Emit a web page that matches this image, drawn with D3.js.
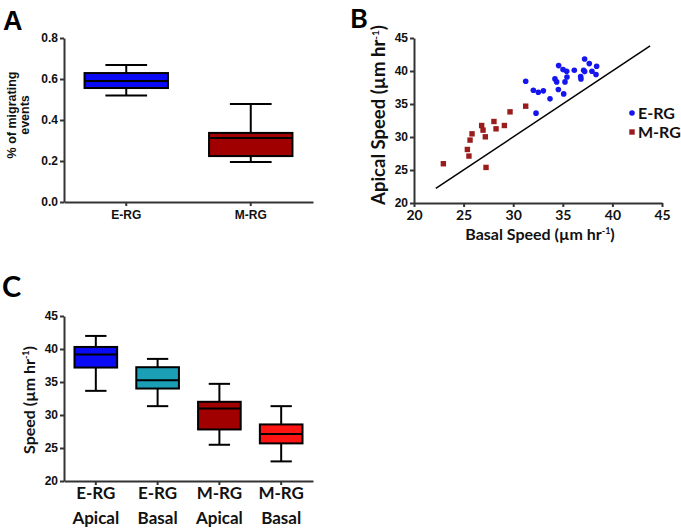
<!DOCTYPE html>
<meta charset="utf-8" />
<title>Migration and speed panels</title>
<style>
  body { margin: 0; background: #fff; }
  .axis path, .axis line { stroke: #333; stroke-width: 2px; }
  .axis text { font-family: "Liberation Sans", Arial, sans-serif; font-weight: bold; font-size: 12px; fill: #111; }
  .calib text, .calib { font-family: Lato, "Open Sans", sans-serif; font-weight: bold; fill: #111; }
  .box rect { stroke: #000; stroke-width: 2px; }
  .box line { stroke: #000; stroke-width: 2px; }
  .letter { font-family: "Liberation Sans", Arial, sans-serif; font-weight: bold; font-size: 27px; fill: #000; }
</style>
<body>
<script src="https://cdn.jsdelivr.net/npm/d3@7"></script>
<script>
  // panel A: fraction of migrating events
  var migCats = ["E-RG", "M-RG"];
  var migLow = [0.52, 0.195];
  var migQ1 = [0.556, 0.224];
  var migMed = [0.59, 0.312];
  var migQ3 = [0.629, 0.337];
  var migHigh = [0.668, 0.478];
  var migColors = ["#0a0af5", "#a00000"];
  var migTicks = [0, 0.2, 0.4, 0.6, 0.8];

  // panel B: apical vs basal speed per cell
  var eBasal = [31.26, 32.03, 32.53, 33.04, 33.71, 32.3, 34.58, 34.21, 34.38, 34.55, 35.09, 35.02, 35.39,
    35.22, 35.42, 36.16, 36.8, 36.83, 37.1, 37.2, 37.2, 37.67, 37.94, 38.41, 38.35];
  var eApical = [38.45, 37.09, 36.78, 36.99, 35.78, 33.61, 40.82, 38.8, 38.35, 37.19, 36.53, 40.21, 39.96,
    38.35, 39.1, 40.11, 39.15, 38.8, 40.11, 41.82, 39.91, 41.12, 39.96, 40.72, 39.46];
  var mBasal = [22.96, 25.38, 25.54, 25.65, 25.85, 26.82, 26.96, 27.19, 27.26, 28.06, 28.27, 29.11, 29.68, 31.26];
  var mApical = [25.95, 28.11, 27.11, 29.53, 30.48, 31.74, 31.04, 30.03, 25.39, 32.35, 31.24, 31.74, 33.81, 34.67];
  var unityLine = [22.2, 43.8];
  var speedTicks = [20, 25, 30, 35, 40, 45];

  // panel C: speed summaries
  var speedCats = [["E-RG", "Apical"], ["E-RG", "Basal"], ["M-RG", "Apical"], ["M-RG", "Basal"]];
  var speedLow = [33.66, 31.34, 25.49, 22.97];
  var speedQ1 = [37.19, 34.01, 27.81, 25.7];
  var speedMed = [39.15, 35.27, 30.99, 27.11];
  var speedQ3 = [40.31, 37.24, 32.0, 28.57];
  var speedHigh = [41.98, 38.5, 34.72, 31.34];
  var speedColors = ["#0a0af5", "#1b9fb7", "#a00000", "#ff1414"];

  var svg = d3.select("body").append("svg")
    .attr("width", 681)
    .attr("height", 529);

  function drawBoxes(g, x, y, n, low, q1, med, q3, high, colors) {
    var bw = x.bandwidth();
    var box = g.selectAll(".box").data(d3.range(n)).enter()
      .append("g").attr("class", "box");
    box.append("line")
      .attr("x1", function (i) { return x(i) + bw / 2; })
      .attr("x2", function (i) { return x(i) + bw / 2; })
      .attr("y1", function (i) { return y(low[i]); })
      .attr("y2", function (i) { return y(high[i]); });
    [low, high].forEach(function (arr) {
      box.append("line")
        .attr("x1", function (i) { return x(i) + bw / 4; })
        .attr("x2", function (i) { return x(i) + bw * 3 / 4; })
        .attr("y1", function (i) { return y(arr[i]); })
        .attr("y2", function (i) { return y(arr[i]); });
    });
    box.append("rect")
      .attr("x", function (i) { return x(i); })
      .attr("width", bw)
      .attr("y", function (i) { return y(q3[i]); })
      .attr("height", function (i) { return y(q1[i]) - y(q3[i]); })
      .style("fill", function (i) { return colors[i]; });
    box.append("line")
      .attr("x1", function (i) { return x(i); })
      .attr("x2", function (i) { return x(i) + bw; })
      .attr("y1", function (i) { return y(med[i]); })
      .attr("y2", function (i) { return y(med[i]); });
  }

  // ---- Panel A
  var gA = svg.append("g");
  var xA = d3.scaleBand().domain(d3.range(migCats.length)).range([64, 313]).paddingInner(0.33).paddingOuter(0.165);
  var yA = d3.scaleLinear().domain([0, 0.8]).range([202, 38]);

  gA.append("g").attr("class", "axis")
    .attr("transform", "translate(64,0)")
    .call(d3.axisLeft(yA).tickValues(migTicks).tickFormat(d3.format(".1f")).tickSize(4).tickSizeOuter(0).tickPadding(2));
  gA.append("g").attr("class", "axis")
    .attr("transform", "translate(0,202)")
    .call(d3.axisBottom(xA).tickFormat(function (i) { return migCats[i]; }).tickSize(4).tickSizeOuter(0).tickPadding(4));
  drawBoxes(gA, xA, yA, migCats.length, migLow, migQ1, migMed, migQ3, migHigh, migColors);

  gA.append("text")
    .attr("transform", "translate(16,115) rotate(-90)")
    .attr("text-anchor", "middle")
    .style("font-family", "'Liberation Sans', Arial, sans-serif")
    .style("font-weight", "bold")
    .style("font-size", "12.5px")
    .style("fill", "#111")
    .selectAll("tspan").data(["% of migrating", "events"]).enter()
    .append("tspan")
    .attr("x", 0)
    .attr("y", function (d, i) { return i * 13; })
    .text(function (d) { return d; });
  gA.append("text").attr("class", "letter").attr("x", 3).attr("y", 30).text("A");

  // ---- Panel B
  var gB = svg.append("g");
  var xB = d3.scaleLinear().domain([20, 45]).range([414, 662]);
  var yB = d3.scaleLinear().domain([20, 45]).range([203, 38]);

  gB.append("g").attr("class", "axis")
    .attr("transform", "translate(414,0)")
    .call(d3.axisLeft(yB).tickValues(speedTicks).tickSize(4).tickSizeOuter(0).tickPadding(2));
  var bx = gB.append("g").attr("class", "axis calib")
    .attr("transform", "translate(0,203)")
    .call(d3.axisBottom(xB).tickValues(speedTicks).tickSize(4).tickSizeOuter(0).tickPadding(3));
  bx.selectAll("text").style("font-family", "Lato, sans-serif").style("font-size", "14px");

  gB.append("line")
    .attr("x1", xB(unityLine[0])).attr("y1", yB(unityLine[0]))
    .attr("x2", xB(unityLine[1])).attr("y2", yB(unityLine[1]))
    .style("stroke", "#000").style("stroke-width", 1.5);

  gB.selectAll(".dot").data(d3.range(eBasal.length)).enter()
    .append("circle")
    .attr("cx", function (i) { return xB(eBasal[i]); })
    .attr("cy", function (i) { return yB(eApical[i]); })
    .attr("r", 2.8)
    .style("fill", "#1515ee");
  gB.selectAll(".sq").data(d3.range(mBasal.length)).enter()
    .append("rect")
    .attr("x", function (i) { return xB(mBasal[i]) - 2.7; })
    .attr("y", function (i) { return yB(mApical[i]) - 2.7; })
    .attr("width", 5.4).attr("height", 5.4)
    .style("fill", "#9b1c1c");

  // legend
  gB.append("circle").attr("cx", 632).attr("cy", 113).attr("r", 2.8).style("fill", "#1515ee");
  gB.append("rect").attr("x", 629.3).attr("y", 129.3).attr("width", 5.4).attr("height", 5.4).style("fill", "#9b1c1c");
  gB.append("text").attr("class", "calib").attr("x", 638).attr("y", 119).style("font-size", "16px").text("E-RG");
  gB.append("text").attr("class", "calib").attr("x", 638).attr("y", 138).style("font-size", "16px").text("M-RG");

  gB.append("text").attr("class", "calib")
    .attr("x", 540).attr("y", 240)
    .attr("text-anchor", "middle")
    .style("font-size", "16px")
    .html("Basal Speed (µm hr<tspan dy='-6' font-size='9'>-1</tspan><tspan dy='6'>)</tspan>");
  gB.append("text").attr("class", "calib")
    .attr("transform", "translate(385,115) rotate(-90)")
    .attr("text-anchor", "middle")
    .style("font-size", "18.5px")
    .html("Apical Speed (µm hr<tspan dy='-6' font-size='10'>-1</tspan><tspan dy='6'>)</tspan>");
  gB.append("text").attr("class", "letter").attr("x", 350).attr("y", 28).style("font-family", "Lato, sans-serif").style("font-size", "27px").text("B");

  // ---- Panel C
  var gC = svg.append("g");
  var xC = d3.scaleBand().domain(d3.range(speedCats.length)).range([64, 313]).paddingInner(0.31).paddingOuter(0.17);
  var yC = d3.scaleLinear().domain([20, 45]).range([481, 316]);

  gC.append("g").attr("class", "axis")
    .attr("transform", "translate(64,0)")
    .call(d3.axisLeft(yC).tickValues(speedTicks).tickSize(4).tickSizeOuter(0).tickPadding(2));
  var cx = gC.append("g").attr("class", "axis")
    .attr("transform", "translate(0,481)")
    .call(d3.axisBottom(xC).tickFormat("").tickSize(4).tickSizeOuter(0));
  cx.selectAll(".tick").append("text")
    .attr("class", "calib")
    .attr("text-anchor", "middle")
    .style("font-family", "Lato, sans-serif")
    .style("font-size", "17px")
    .selectAll("tspan").data(function (i) { return speedCats[i]; }).enter()
    .append("tspan")
    .attr("x", 0)
    .attr("y", function (d, j) { return j ? 43 : 18; })
    .text(function (d) { return d; });
  drawBoxes(gC, xC, yC, speedCats.length, speedLow, speedQ1, speedMed, speedQ3, speedHigh, speedColors);

  gC.append("text").attr("class", "calib")
    .attr("transform", "translate(35,400) rotate(-90)")
    .attr("text-anchor", "middle")
    .style("font-size", "16px")
    .html("Speed (µm hr<tspan dy='-6' font-size='9'>-1</tspan><tspan dy='6'>)</tspan>");
  gC.append("text").attr("class", "letter").attr("x", 2).attr("y", 297).style("font-family", "Lato, sans-serif").style("font-size", "29px").text("C");
</script>
</body>
